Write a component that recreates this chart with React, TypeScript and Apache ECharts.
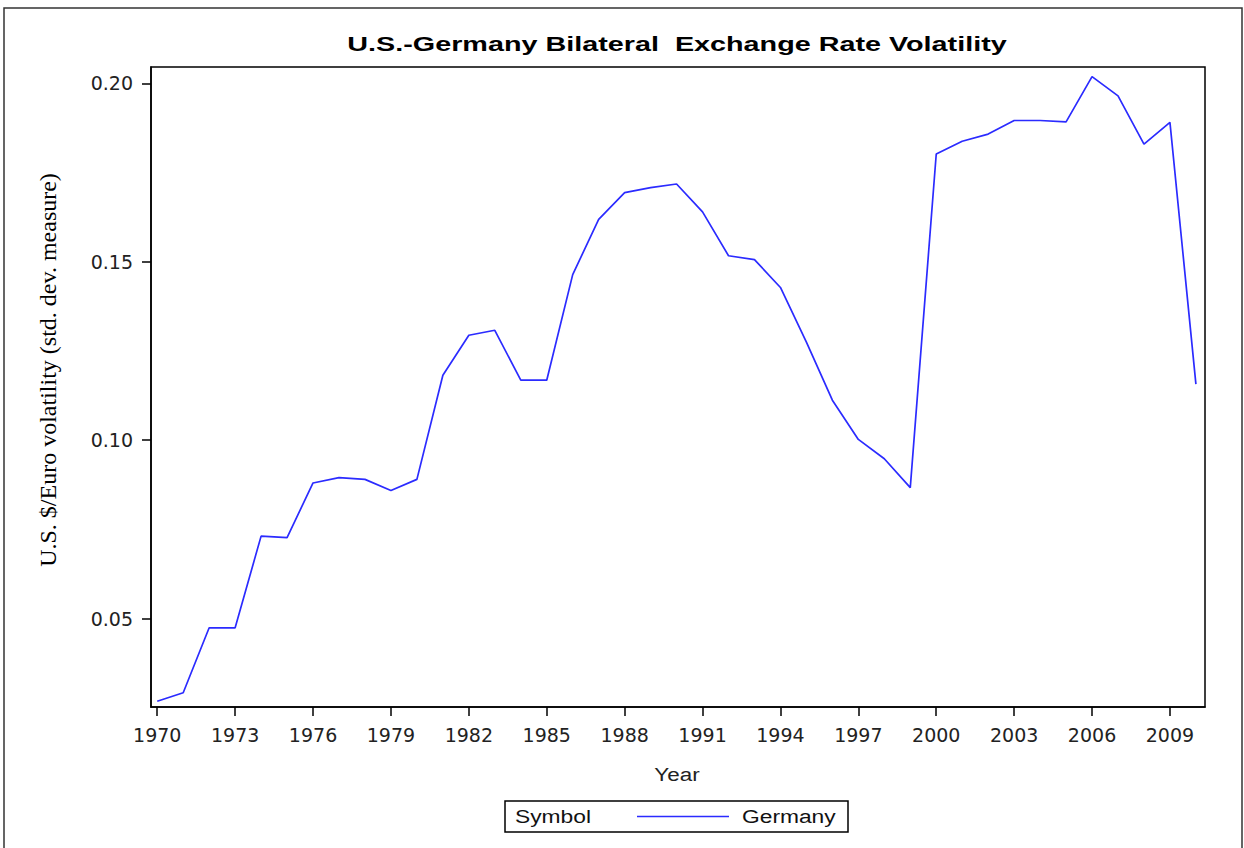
import React, { useEffect, useRef } from "react";
import * as echarts from "echarts";

const years = [
  1970, 1971, 1972, 1973, 1974, 1975, 1976, 1977, 1978, 1979,
  1980, 1981, 1982, 1983, 1984, 1985, 1986, 1987, 1988, 1989,
  1990, 1991, 1992, 1993, 1994, 1995, 1996, 1997, 1998, 1999,
  2000, 2001, 2002, 2003, 2004, 2005, 2006, 2007, 2008, 2009, 2010,
];
const germany = [
  0.0268, 0.0292, 0.0474, 0.0474, 0.0731, 0.0727, 0.088, 0.0895, 0.089, 0.0859,
  0.089, 0.1182, 0.1294, 0.1308, 0.1168, 0.1168, 0.1464, 0.1619, 0.1694, 0.1708,
  0.1718, 0.164, 0.1517, 0.1506, 0.1428, 0.1275, 0.1112, 0.1002, 0.0948, 0.0867,
  0.1802, 0.1838, 0.1858, 0.1896, 0.1896, 0.1892, 0.2019, 0.1965, 0.183, 0.1891, 0.1157,
];
const xTicks = [1970, 1973, 1976, 1979, 1982, 1985, 1988, 1991, 1994, 1997, 2000, 2003, 2006, 2009];
const yTicks = [0.05, 0.1, 0.15, 0.2];

const titleText = "U.S.-Germany Bilateral  Exchange Rate Volatility";
const xName = "Year";
const yName = "U.S. $/Euro volatility (std. dev. measure)";
const legendTitle = "Symbol";
const seriesName = "Germany";

const LINE_COLOR = "#2b2bff";

export default function App() {
  const ref = useRef<HTMLDivElement>(null);
  useEffect(() => {
    if (!ref.current) return;
    const chart = echarts.init(ref.current, null, { renderer: "svg" });
    const tickFont = {
      fontFamily: "DejaVu Sans",
      fontSize: 19,
      color: "#222",
    };
    chart.setOption({
      animation: false,
      backgroundColor: "#fff",
      grid: {
        left: 151,
        right: 39,
        top: 67,
        bottom: 141,
        show: true,
        borderColor: "#000",
        borderWidth: 1.5,
        containLabel: false,
      },
      xAxis: {
        type: "value",
        min: 1969.76,
        max: 2010.35,
        axisLine: { show: true, onZero: false, lineStyle: { color: "#000", width: 1.5 } },
        axisTick: {
          show: true,
          inside: false,
          length: 9,
          customValues: xTicks,
          lineStyle: { color: "#000", width: 1.5 },
        },
        axisLabel: {
          ...tickFont,
          margin: 18,
          customValues: xTicks,
          formatter: (v: number) => String(Math.round(v)),
        },
        splitLine: { show: false },
      },
      yAxis: {
        type: "value",
        min: 0.0252,
        max: 0.2046,
        axisLine: { show: true, onZero: false, lineStyle: { color: "#000", width: 1.5 } },
        axisTick: {
          show: true,
          inside: false,
          length: 9,
          customValues: yTicks,
          lineStyle: { color: "#000", width: 1.5 },
        },
        axisLabel: {
          ...tickFont,
          margin: 18,
          customValues: yTicks,
          formatter: (v: number) => v.toFixed(2),
        },
        splitLine: { show: false },
      },
      series: [
        {
          name: seriesName,
          type: "line",
          data: years.map((y, i) => [y, germany[i]]),
          showSymbol: false,
          symbol: "none",
          lineStyle: { color: LINE_COLOR, width: 1.7 },
          itemStyle: { color: LINE_COLOR },
        },
      ],
      graphic: [
        {
          type: "rect",
          shape: { x: 4, y: 8, width: 1238, height: 870 },
          style: { fill: "none", stroke: "#333", lineWidth: 1.5 },
          silent: true,
        },
        {
          type: "text",
          x: 677,
          y: 43,
          scaleX: 1.37,
          style: {
            text: titleText,
            fontFamily: "Liberation Sans",
            fontWeight: "bold",
            fontSize: 21,
            fill: "#000",
            align: "center",
            verticalAlign: "middle",
          },
        },
        {
          type: "text",
          x: 677,
          y: 774,
          scaleX: 1.18,
          style: {
            text: xName,
            fontFamily: "Liberation Sans",
            fontSize: 19,
            fill: "#222",
            align: "center",
            verticalAlign: "middle",
          },
        },
        {
          type: "text",
          x: 48,
          y: 370,
          rotation: Math.PI / 2,
          style: {
            text: yName,
            fontFamily: "Liberation Serif",
            fontSize: 24,
            fill: "#000",
            align: "center",
            verticalAlign: "middle",
          },
        },
        {
          type: "rect",
          shape: { x: 505, y: 801, width: 343, height: 31 },
          style: { fill: "#fff", stroke: "#000", lineWidth: 1.5 },
        },
        {
          type: "text",
          x: 515,
          y: 816.5,
          scaleX: 1.2,
          style: {
            text: legendTitle,
            fontFamily: "Liberation Sans",
            fontSize: 19,
            fill: "#111",
            align: "left",
            verticalAlign: "middle",
          },
        },
        {
          type: "line",
          shape: { x1: 637, y1: 816.5, x2: 729, y2: 816.5 },
          style: { stroke: LINE_COLOR, lineWidth: 1.6 },
        },
        {
          type: "text",
          x: 742,
          y: 816.5,
          scaleX: 1.2,
          style: {
            text: seriesName,
            fontFamily: "Liberation Sans",
            fontSize: 19,
            fill: "#111",
            align: "left",
            verticalAlign: "middle",
          },
        },
      ],
    });
    return () => chart.dispose();
  }, []);
  return (
    <div
      ref={ref}
      style={{ position: "fixed", left: 0, top: 0, width: 1244, height: 848, background: "#fff" }}
    />
  );
}
